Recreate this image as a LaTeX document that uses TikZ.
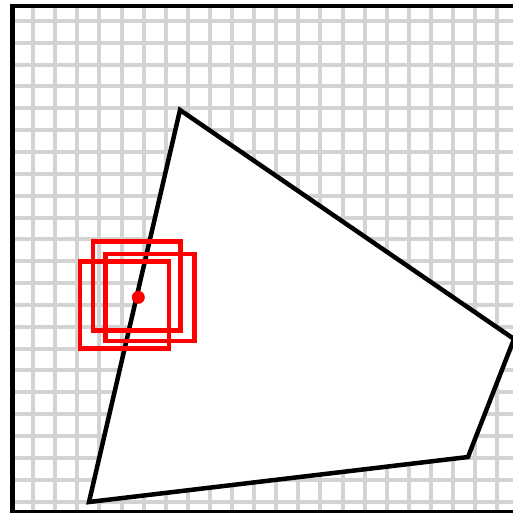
\documentclass[tikz,border=0pt]{standalone}
\definecolor{gridgrey}{RGB}{211,211,211}

\begin{document}
\begin{tikzpicture}[x=1pt,y=-1pt,
  gridline/.style={gridgrey, line width=4pt},
  framebox/.style={black, line width=4.5pt},
  polyface/.style={fill=white, draw=black, line width=4.5pt},
  samplebox/.style={red, line width=4.5pt}]
\useasboundingbox (0,0) rectangle (513,512);
\begin{scope}
\clip (0,0) rectangle (513,512);
% grid
\foreach \i in {1,...,22}
  \draw [gridline] (11+22.1*\i,6) -- (11+22.1*\i,512);
\foreach \j in {1,...,23}
  \draw [gridline] (12,-1+21.85*\j) -- (518,-1+21.85*\j);
\draw [framebox] (12.5,6) rectangle (518,512);
% polygon
\coordinate (apex)   at (180,110);
\coordinate (east)   at (514,339);
\coordinate (south)  at (468,457);
\coordinate (corner) at (89,502);
\draw [polyface] (apex) -- (east) -- (south) -- (corner) -- cycle;
% samples round the point
\coordinate (pt) at (138.3,297.3);
\draw [samplebox] (92.8,241.7)  rectangle (180.5,330.3);
\draw [samplebox] (105.5,253.8) rectangle (194.7,341);
\draw [samplebox] (79.8,261.7)  rectangle (169,348.7);
\fill [red] (pt) circle (6.5);
\end{scope}
\end{tikzpicture}
\end{document}
